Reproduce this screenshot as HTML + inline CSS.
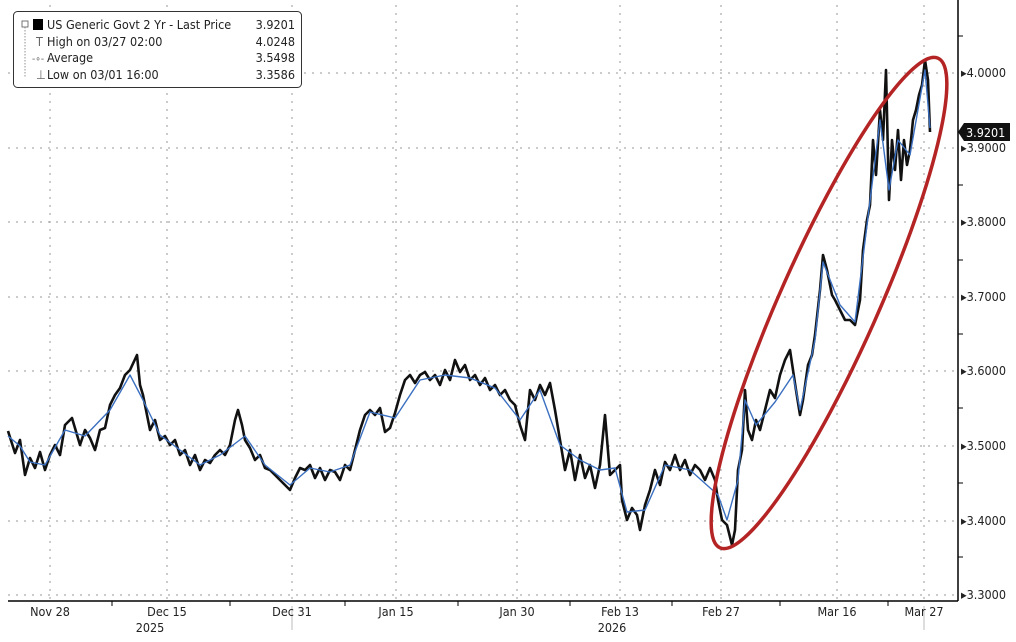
<!DOCTYPE html>
<html><head><meta charset="utf-8"><style>
body{margin:0;background:#fff;}
svg{display:block;font-family:"DejaVu Sans Condensed","Liberation Sans",sans-serif;}
</style></head><body>
<svg width="1016" height="642" viewBox="0 0 1016 642">
<rect width="1016" height="642" fill="#fff"/>
<g stroke="#999" stroke-width="1" stroke-dasharray="2,6">
<line x1="8" x2="958" y1="73" y2="73"/><line x1="8" x2="958" y1="148" y2="148"/>
<line x1="8" x2="958" y1="222" y2="222"/><line x1="8" x2="958" y1="297" y2="297"/>
<line x1="8" x2="958" y1="371" y2="371"/><line x1="8" x2="958" y1="446" y2="446"/>
<line x1="8" x2="958" y1="521" y2="521"/><line x1="8" x2="958" y1="595" y2="595"/>
<line x1="50" x2="50" y1="5" y2="600"/><line x1="167" x2="167" y1="5" y2="600"/>
<line x1="292" x2="292" y1="5" y2="600"/><line x1="396" x2="396" y1="5" y2="600"/>
<line x1="517" x2="517" y1="5" y2="600"/><line x1="620" x2="620" y1="5" y2="600"/>
<line x1="721" x2="721" y1="5" y2="600"/><line x1="837" x2="837" y1="5" y2="600"/>
<line x1="924" x2="924" y1="5" y2="600"/>
</g>
<line x1="958" y1="0" x2="958" y2="601" stroke="#000" stroke-width="1.5"/>
<line x1="8" y1="601" x2="958" y2="601" stroke="#000" stroke-width="1.5"/>
<g stroke="#000" stroke-width="1">
<line x1="112" y1="601" x2="112" y2="606"/><line x1="230" y1="601" x2="230" y2="606"/><line x1="345" y1="601" x2="345" y2="606"/><line x1="458" y1="601" x2="458" y2="606"/><line x1="570" y1="601" x2="570" y2="606"/><line x1="672" y1="601" x2="672" y2="606"/><line x1="780" y1="601" x2="780" y2="606"/><line x1="888" y1="601" x2="888" y2="606"/>
<line x1="292" y1="606" x2="292" y2="630" stroke="#bbb"/><line x1="924" y1="606" x2="924" y2="630" stroke="#bbb"/>
<line x1="958" y1="185" x2="963" y2="185"/><line x1="958" y1="260" x2="963" y2="260"/><line x1="958" y1="334" x2="963" y2="334"/><line x1="958" y1="408" x2="963" y2="408"/><line x1="958" y1="483" x2="963" y2="483"/><line x1="958" y1="557" x2="963" y2="557"/><line x1="958" y1="36" x2="963" y2="36"/>
</g>
<g font-size="12.5" fill="#222">
<text x="961" y="77">▸4.0000</text><text x="961" y="152">▸3.9000</text><text x="961" y="226">▸3.8000</text><text x="961" y="301">▸3.7000</text><text x="961" y="375">▸3.6000</text><text x="961" y="450">▸3.5000</text><text x="961" y="525">▸3.4000</text><text x="961" y="599">▸3.3000</text>
</g>
<path d="M958 132 L964 123 H1010 V141 H964 Z" fill="#111"/>
<text x="966" y="137" font-size="12.5" fill="#fff">3.9201</text>
<g font-size="12.5" fill="#222" text-anchor="middle">
<text x="50" y="616">Nov 28</text><text x="167" y="616">Dec 15</text><text x="150" y="632">2025</text>
<text x="292" y="616">Dec 31</text><text x="396" y="616">Jan 15</text><text x="517" y="616">Jan 30</text>
<text x="620" y="616">Feb 13</text><text x="612" y="632">2026</text><text x="721" y="616">Feb 27</text>
<text x="837" y="616">Mar 16</text><text x="924" y="616">Mar 27</text>
</g>
<polyline fill="none" stroke="#111" stroke-width="2.6" stroke-linejoin="round" points="8,431 15,453 20,440 25,475 30,458 35,468 40,452 45,470 50,455 55,445 60,455 65,425 72,418 80,445 85,430 90,438 95,450 100,430 105,428 110,405 115,395 120,388 125,375 130,370 137,355 140,385 143,395 150,430 155,420 160,440 165,436 170,445 175,440 180,455 185,450 190,465 195,455 200,470 205,460 210,463 215,455 220,450 225,455 230,445 235,420 238,410 242,425 245,440 250,448 255,460 260,455 265,468 270,470 275,475 280,480 285,485 290,490 295,478 300,468 305,470 310,465 315,478 320,468 325,480 330,470 335,472 340,480 345,465 350,470 355,450 360,430 365,415 370,410 375,415 380,408 385,432 390,428 395,413 400,395 405,380 410,375 415,383 420,375 425,372 430,380 435,375 440,385 445,370 450,380 455,360 460,372 465,365 470,380 475,375 480,385 485,378 490,390 495,385 500,395 505,390 510,400 515,405 520,425 525,440 530,390 535,400 540,385 545,395 550,383 555,410 560,440 565,470 570,450 575,480 580,455 585,478 590,465 595,488 600,465 605,415 610,475 615,470 620,465 622,500 627,520 632,508 637,515 640,530 645,505 650,490 655,470 660,485 665,462 670,470 675,455 680,470 685,460 690,475 695,465 700,470 705,480 710,468 715,480 718,500 722,520 727,525 732,545 735,530 738,470 742,450 745,390 748,430 752,440 756,420 760,430 765,410 770,390 775,398 780,375 785,360 790,350 793,370 796,390 800,415 803,400 808,365 812,355 815,335 820,290 823,255 827,270 832,295 835,300 840,310 845,320 850,320 855,325 860,300 863,250 867,220 870,205 873,140 876,175 880,110 883,140 886,70 889,200 892,140 895,170 898,130 901,180 904,140 907,165 910,150 913,120 916,110 919,95 922,85 925,60 928,80 930,132"/>
<polyline fill="none" stroke="#3a6fc0" stroke-width="1.4" stroke-linejoin="round" points="8,436 20,446 30,462 45,465 65,430 85,436 110,410 130,375 143,400 160,435 180,450 200,465 220,455 245,436 265,465 290,485 310,468 330,472 350,465 370,412 395,418 420,380 445,375 470,378 495,388 520,420 540,390 560,445 580,460 600,470 615,468 627,512 645,510 665,465 690,470 718,495 727,520 738,480 745,400 756,425 775,402 793,375 800,410 815,340 823,262 840,305 855,322 867,225 880,120 889,190 898,140 910,155 925,70 930,128"/>
<ellipse cx="829" cy="303" rx="268" ry="49" transform="rotate(-66 829 303)" fill="none" stroke="#b52424" stroke-width="3.5"/>
<rect x="13.5" y="11.5" width="288" height="76" rx="4" fill="#fff" stroke="#333" stroke-width="1"/>
<g font-size="12.5" fill="#222">
<rect x="33" y="19" width="10" height="11" fill="#000"/>
<rect x="22" y="21" width="6" height="6" fill="none" stroke="#555" stroke-width="0.8"/>
<line x1="25" y1="27" x2="25" y2="78" stroke="#777" stroke-width="0.8" stroke-dasharray="1.5,1.5"/>
<text x="47" y="29">US Generic Govt 2 Yr - Last Price</text><text x="295" y="29" text-anchor="end">3.9201</text>
<text x="36" y="46" fill="#666">T</text><text x="47" y="46">High on 03/27 02:00</text><text x="295" y="46" text-anchor="end">4.0248</text>
<text x="32" y="62" fill="#666" font-size="10">-∘-</text><text x="47" y="62">Average</text><text x="295" y="62" text-anchor="end">3.5498</text>
<text x="36" y="79" fill="#666">⊥</text><text x="47" y="79">Low on 03/01 16:00</text><text x="295" y="79" text-anchor="end">3.3586</text>
</g>
</svg>
</body></html>
